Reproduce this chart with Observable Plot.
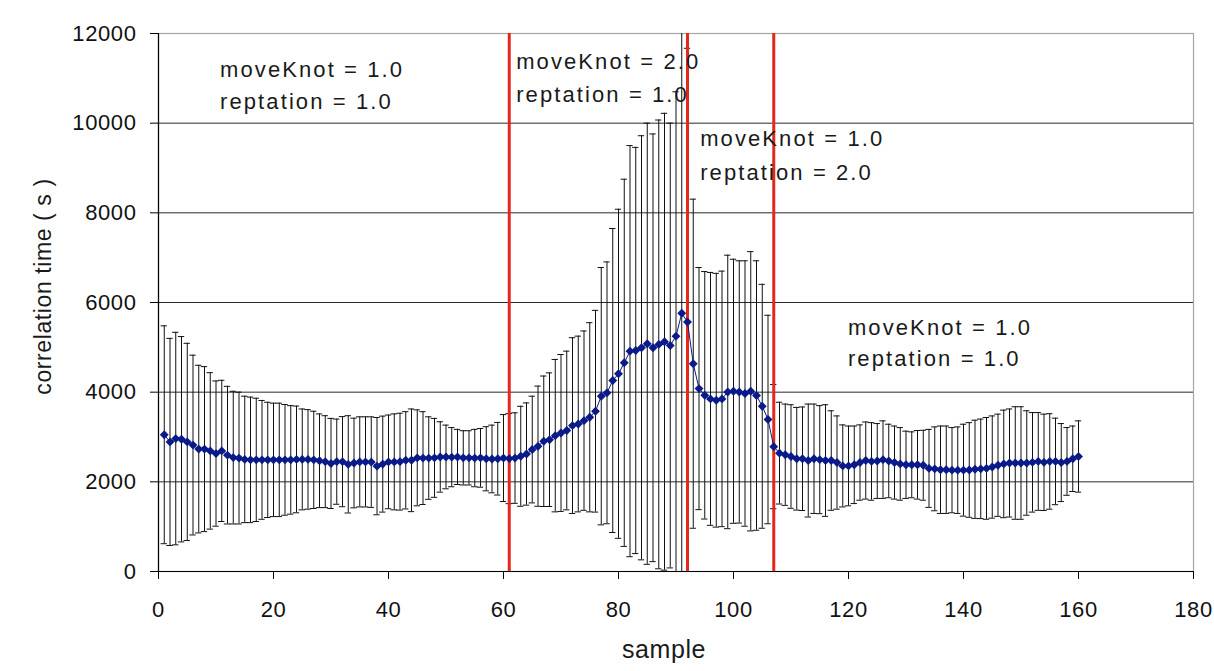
<!DOCTYPE html>
<html>
<head>
<meta charset="utf-8">
<script src="https://cdn.jsdelivr.net/npm/d3@7"></script>
<script src="https://cdn.jsdelivr.net/npm/@observablehq/plot@0.6"></script>
<style>
  html, body { margin: 0; padding: 0; background: #ffffff; }
  #chart svg { display: block; }
  #chart svg .ann text { letter-spacing: 2.1px; }
</style>
</head>
<body>
<div id="chart"></div>
<script>
// ---- data ----
const meanTime = [
  3050,2890,2965,2950,2890,2820,2730,2730,2690,2630,
  2690,2595,2540,2530,2500,2490,2490,2490,2490,2490,
  2490,2490,2490,2500,2500,2500,2490,2470,2450,2410,
  2450,2450,2390,2420,2445,2445,2440,2350,2395,2445,
  2445,2450,2480,2480,2535,2530,2530,2535,2555,2555,
  2550,2555,2535,2535,2530,2535,2515,2510,2515,2530,
  2518,2530,2570,2620,2720,2795,2905,2940,3030,3090,
  3145,3255,3290,3365,3440,3575,3910,3985,4260,4410,
  4655,4915,4930,4990,5080,4990,5065,5125,5040,5250,
  5760,5565,4635,4080,3930,3850,3820,3850,4005,4020,
  4005,3970,4020,3925,3685,3390,2785,2640,2605,2565,
  2515,2515,2475,2515,2495,2475,2475,2430,2355,2355,
  2380,2430,2475,2455,2465,2495,2465,2430,2400,2380,
  2380,2380,2370,2300,2290,2270,2270,2260,2260,2260,
  2265,2280,2290,2300,2330,2370,2400,2420,2420,2420,
  2420,2435,2455,2435,2455,2455,2430,2455,2515,2565
];
const errTime = [
  2430,2310,2370,2290,2200,2005,1870,1840,1745,1620,
  1575,1535,1480,1470,1410,1400,1375,1325,1285,1265,
  1265,1235,1210,1190,1125,1110,1085,1045,1025,1005,
  950,1005,1085,1000,1005,1005,1010,1085,1070,1045,
  1070,1080,1085,1145,1070,1035,920,880,785,710,
  660,615,605,605,640,655,715,755,810,970,
  1005,1010,1115,1140,1190,1340,1455,1490,1700,1750,
  1770,1960,1960,2000,2110,2250,2870,2920,3390,3670,
  4095,4585,4530,4730,4920,4770,5005,5095,4960,5450,
  6600,6105,3670,2700,2760,2820,2830,2850,3050,2945,
  2925,2960,3115,3005,2720,2325,1385,1135,1130,1155,
  1145,1155,1260,1220,1205,1245,1110,1040,915,890,
  865,840,860,865,835,865,820,815,810,750,
  735,765,780,870,935,975,975,950,965,1025,
  1055,1095,1110,1135,1140,1140,1200,1205,1255,1255,
  1165,1110,1090,1075,1065,965,870,755,730,795
];
const boundaries = [61, 92, 107];
const xTicks = [0, 20, 40, 60, 80, 100, 120, 140, 160, 180];
const yTicks = [0, 2000, 4000, 6000, 8000, 10000, 12000];
const gridLevels = [2000, 4000, 6000, 8000, 10000];
const annX = [10.7, 62.2, 94.2, 119.9];
const annY1 = [11180, 11360, 9640, 5440];
const annY2 = [10470, 10640, 8900, 4750];
const annLine1 = ["moveKnot = 1.0", "moveKnot = 2.0", "moveKnot = 1.0", "moveKnot = 1.0"];
const annLine2 = ["reptation = 1.0", "reptation = 1.0", "reptation = 2.0", "reptation = 1.0"];
const xTitle = "sample";
const yTitle = "correlation time ( s )";

// ---- build table ----
const rows = meanTime.map((m, i) => ({
  s: i + 1,
  mean: m,
  lo: m - errTime[i],
  hi: m + errTime[i]
}));
const ann = annX.map((x, i) => ({x, y1: annY1[i], y2: annY2[i], t1: annLine1[i], t2: annLine2[i]}));

const blue = "#0a1a88";
const red = "#e5281c";
const capHalf = 0.55;
const font = "'Liberation Sans', Arial, sans-serif";

const chart = Plot.plot({
  width: 1214,
  height: 671,
  marginLeft: 158,
  marginRight: 21,
  marginTop: 33,
  marginBottom: 100,
  style: {fontFamily: font, background: "#ffffff", color: "#111", letterSpacing: "0.06em"},
  x: {domain: [0, 180]},
  y: {domain: [0, 12000]},
  marks: [
    Plot.frame({stroke: "#a6a6a6", strokeWidth: 1.2}),
    Plot.ruleY(gridLevels, {stroke: "#2a2a2a", strokeWidth: 1}),
    Plot.ruleX(rows, {x: "s", y1: "lo", y2: "hi", stroke: "#111", strokeWidth: 1, clip: true}),
    Plot.ruleY(rows, {y: "hi", x1: d => d.s - capHalf, x2: d => d.s + capHalf, stroke: "#111", strokeWidth: 1, clip: true}),
    Plot.ruleY(rows, {y: "lo", x1: d => d.s - capHalf, x2: d => d.s + capHalf, stroke: "#111", strokeWidth: 1, clip: true}),
    Plot.ruleX(boundaries, {stroke: red, strokeWidth: 3}),
    Plot.ruleX([0], {stroke: "#000", strokeWidth: 1.2}),
    Plot.ruleY([0], {stroke: "#000", strokeWidth: 1.2}),
    Plot.line(rows, {x: "s", y: "mean", stroke: blue, strokeWidth: 1}),
    Plot.dot(rows, {x: "s", y: "mean", symbol: "diamond2", r: 4, fill: blue, stroke: "none"}),
    Plot.text(ann, {x: "x", y: "y1", text: "t1", textAnchor: "start", fontSize: 22, fill: "#1a1a1a", className: "ann"}),
    Plot.text(ann, {x: "x", y: "y2", text: "t2", textAnchor: "start", fontSize: 22, fill: "#1a1a1a", className: "ann"}),
    Plot.axisY({ticks: yTicks, tickSize: 8, tickPadding: 14, fontSize: 22, label: null, tickFormat: d => String(d), stroke: "#000"}),
    Plot.axisX({ticks: xTicks, tickSize: 8, tickPadding: 22, fontSize: 22, label: null, tickFormat: d => String(d), stroke: "#000"}),
    Plot.text([xTitle], {frameAnchor: "bottom", textAnchor: "middle", dy: 86, dx: -12, fontSize: 25, fill: "#1a1a1a"}),
    Plot.text([yTitle], {frameAnchor: "left", textAnchor: "middle", rotate: -90, dx: -115, dy: -16, fontSize: 23, fill: "#1a1a1a"})
  ]
});
document.getElementById("chart").appendChild(chart);
</script>
</body>
</html>
